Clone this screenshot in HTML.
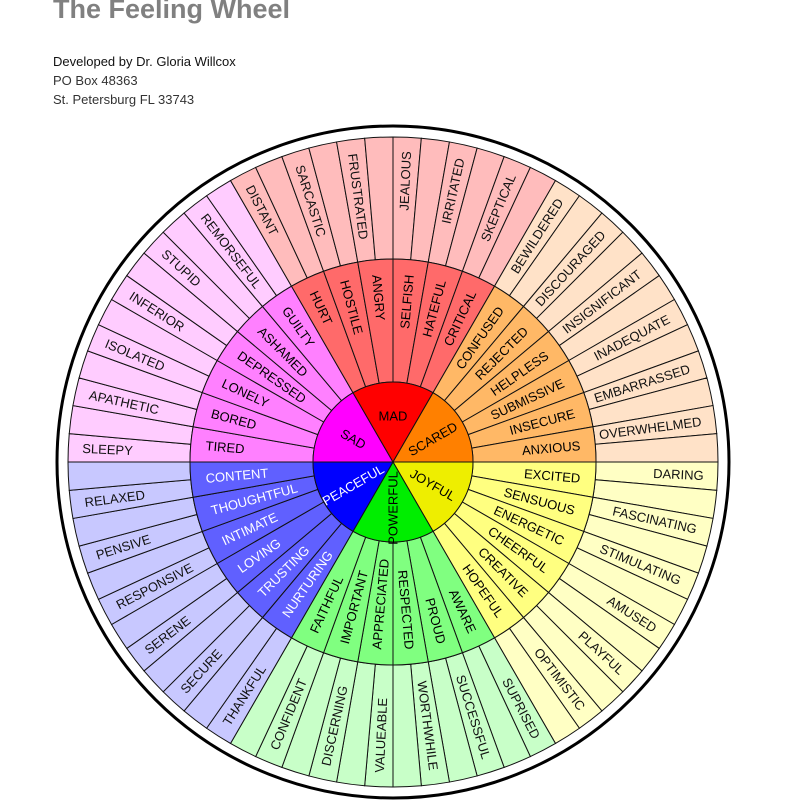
<!DOCTYPE html>
<html><head><meta charset="utf-8"><style>
html,body{margin:0;padding:0;background:#fff;width:787px;height:800px;overflow:hidden}
.t{position:absolute;left:53px;font-family:"Liberation Sans",sans-serif;color:#111}
</style></head><body>
<div class="t" style="top:-6px;font-size:27px;font-weight:bold;color:#808080">The Feeling Wheel</div>
<div class="t" style="top:54px;font-size:13px">Developed by Dr. Gloria Willcox</div>
<div class="t" style="top:73px;font-size:13px;color:#333">PO Box 48363</div>
<div class="t" style="top:92px;font-size:13px;color:#333">St. Petersburg FL 33743</div>
<svg id="w" width="787" height="800" style="position:absolute;left:0;top:0" xmlns="http://www.w3.org/2000/svg"></svg>
<script>
var CX=393,CY=462,R0=80,R1=203,R2=325,RB=336;
var cores=[
 {n:"SAD",s:270,c:["#ff00ff","#ff80ff","#ffccff"],tc:"#000",mid:["TIRED","BORED","LONELY","DEPRESSED","ASHAMED","GUILTY"],out:["SLEEPY","APATHETIC","ISOLATED","INFERIOR","STUPID","REMORSEFUL"]},
 {n:"MAD",s:330,c:["#ff0000","#ff6a6a","#ffbcbc"],tc:"#000",mid:["HURT","HOSTILE","ANGRY","SELFISH","HATEFUL","CRITICAL"],out:["DISTANT","SARCASTIC","FRUSTRATED","JEALOUS","IRRITATED","SKEPTICAL"]},
 {n:"SCARED",s:30,c:["#ff8000","#ffb866","#ffe2c8"],tc:"#000",mid:["CONFUSED","REJECTED","HELPLESS","SUBMISSIVE","INSECURE","ANXIOUS"],out:["BEWILDERED","DISCOURAGED","INSIGNIFICANT","INADEQUATE","EMBARRASSED","OVERWHELMED"]},
 {n:"JOYFUL",s:90,c:["#eeee00","#ffff80","#ffffc4"],tc:"#000",mid:["EXCITED","SENSUOUS","ENERGETIC","CHEERFUL","CREATIVE","HOPEFUL"],out:["DARING","FASCINATING","STIMULATING","AMUSED","PLAYFUL","OPTIMISTIC"]},
 {n:"POWERFUL",s:150,c:["#00ee00","#80ff80","#c8ffc8"],tc:"#000",mid:["AWARE","PROUD","RESPECTED","APPRECIATED","IMPORTANT","FAITHFUL"],out:["SUPRISED","SUCCESSFUL","WORTHWHILE","VALUEABLE","DISCERNING","CONFIDENT"]},
 {n:"PEACEFUL",s:210,c:["#0000ff","#6060ff","#c8c8ff"],tc:"#fff",mid:["NURTURING","TRUSTING","LOVING","INTIMATE","THOUGHTFUL","CONTENT"],out:["THANKFUL","SECURE","SERENE","RESPONSIVE","PENSIVE","RELAXED"]}
];
function P(r,a){var t=a*Math.PI/180;return [CX+r*Math.sin(t),CY-r*Math.cos(t)];}
function sector(r1,r2,a1,a2,fill){
 var p1=P(r2,a1),p2=P(r2,a2),p3=P(r1,a2),p4=P(r1,a1);
 var d="M"+p1+" A"+r2+","+r2+" 0 0 1 "+p2+" L"+p3;
 if(r1>0)d+=" A"+r1+","+r1+" 0 0 0 "+p4;
 d+=" Z";
 return '<path d="'+d+'" fill="'+fill+'" stroke="#111" stroke-width="1"/>';
}
function label(txt,r,a,size,col){
 var p=P(r,a),rot,anc;
 var na=((a%360)+360)%360;
 if(na<180){rot=na-90;anc="end";}else{rot=na+90;anc="start";}
 return '<text x="'+p[0].toFixed(1)+'" y="'+p[1].toFixed(1)+'" transform="rotate('+rot+' '+p[0].toFixed(1)+' '+p[1].toFixed(1)+')" text-anchor="'+anc+'" dominant-baseline="central" font-family="Liberation Sans, sans-serif" font-size="'+size+'" fill="'+col+'">'+txt+'</text>';
}
var s='<circle cx="'+CX+'" cy="'+CY+'" r="'+RB+'" fill="#fff" stroke="#000" stroke-width="3"/>';
var txt='';
cores.forEach(function(c){
 for(var k=0;k<12;k++){s+=sector(R1,R2,c.s+k*5,c.s+k*5+5,c.c[2]);}
 for(var k=0;k<6;k++){s+=sector(R0,R1,c.s+k*10,c.s+k*10+10,c.c[1]);
  txt+=label(c.mid[k],R1-15,c.s+k*10+5,13,c.tc);
  txt+=label(c.out[k],R2-14,c.s+k*10+2.5,13,"#111");}
 s+=sector(0,R0,c.s,c.s+60,c.c[0]);
 var a=c.s+30,p=P(46,a),rot;
 if(c.n=="MAD")rot=0;else{var na=a%360;rot=na<180?na-90:na+90;}
 txt+='<text x="'+p[0].toFixed(1)+'" y="'+p[1].toFixed(1)+'" transform="rotate('+rot+' '+p[0].toFixed(1)+' '+p[1].toFixed(1)+')" text-anchor="middle" dominant-baseline="central" font-family="Liberation Sans, sans-serif" font-size="13" fill="'+c.tc+'">'+c.n+'</text>';
});
document.getElementById('w').innerHTML=s+txt;
</script>
</body></html>
